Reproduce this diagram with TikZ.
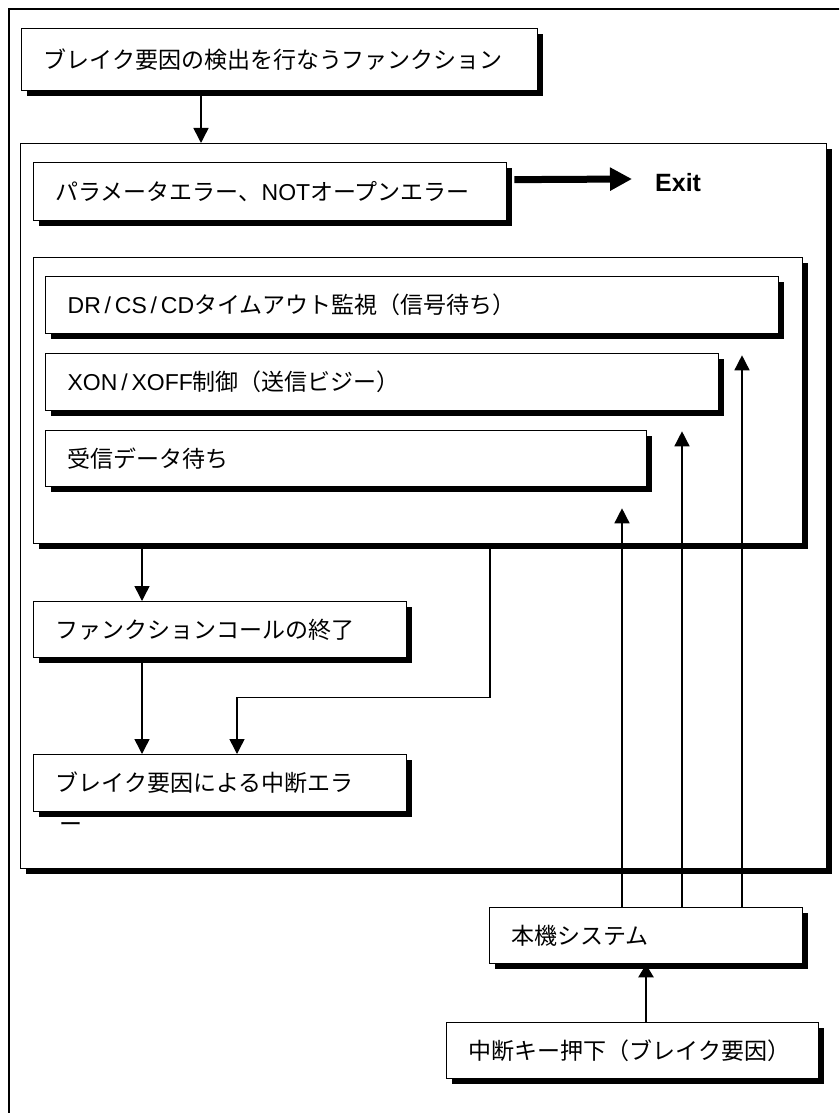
\documentclass[tikz,border=0pt]{standalone}
\usepackage{fontspec}
\setmainfont{Noto Sans CJK JP}
\newfontfamily\exitfont{Liberation Sans}
\newcommand{\lat}[1]{{\exitfont #1}}
\usetikzlibrary{positioning,arrows.meta,calc,shadows}
\definecolor{ink}{RGB}{0,0,0}
\tikzset{
  blk/.style={draw=ink, line width=1.3pt, fill=white, anchor=north west, align=left,
              inner xsep=22pt, inner ysep=0pt, minimum height=57pt, text=ink,
              font=\fontsize{23}{26}\selectfont,
              drop shadow={shadow xshift=5.5pt, shadow yshift=-5.5pt, fill=ink, opacity=1}},
  cont/.style={blk, inner sep=0pt},
  tail/.style={font=\fontsize{23}{26}\selectfont, text=ink, inner sep=0pt, anchor=west},
  arr/.style={-{Triangle[length=15pt,width=15pt]}, line width=1.5pt, draw=ink},
  karr/.style={-{Triangle[length=13pt,width=15pt]}, line width=2.4pt, draw=ink},
  xarr/.style={-{Triangle[length=22pt,width=22pt]}, line width=7pt, draw=ink},
  lbl/.style={font=\exitfont\bfseries\fontsize{25}{28}\selectfont, text=ink, inner sep=0pt, anchor=west},
}
\begin{document}
\begin{tikzpicture}[x=1pt, y=-1pt]
  \useasboundingbox (0,0) rectangle (839,1113);
  \clip (0,0) rectangle (839,1113);
  % sheet border, runs off the page right and below
  \draw[line width=2.2pt, draw=ink] (9,1130) |- (860,9);

  \node[blk, text width=472pt, minimum height=62pt] (detect) at (21,28) {ブレイク要因の検出を行なうファンクション};
  \node[cont, minimum width=806pt, minimum height=725pt] (main) at (20,143) {};
  \node[blk, text width=429pt, minimum height=58pt] (perr) at (33,162) {パラメータエラー、\lat{NOT}オープンエラー};
  \node[lbl] (exit) at (655,183) {Exit};

  % waiting states
  \node[cont, minimum width=769pt, minimum height=286pt] (watch) at (33,257) {};
  \node[blk, text width=689pt] (dr) at (45,276) {\lat{DR\,/\,CS\,/\,CD}タイムアウト監視（信号待ち）};
  \node[blk, text width=629pt] (xon) at (45,353) {\lat{XON\,/\,XOFF}制御（送信ビジー）};
  \node[blk, text width=557pt, minimum height=56pt] (rx) at (45,430) {受信データ待ち};

  \node[blk, text width=329pt, minimum height=56pt] (fend) at (33,601) {ファンクションコールの終了};
  \node[blk, text width=329pt] (berr) at (33,754) {ブレイク要因による中断エラ};
  \node[tail] (berrtail) at (59,828) {ー};

  \node[blk, text width=269pt, minimum height=56pt] (host) at (489,907) {本機システム};
  \node[blk, text width=328pt, minimum height=56pt] (brk) at (446,1022) {中断キー押下（ブレイク要因）};

  \draw[arr] (detect.south -| 201,0) -- (main.north -| 201,0);
  \draw[xarr] ($(perr.east)+(7,-12)$) -- ($(exit.west)+(-23,-4)$);
  \draw[arr] (watch.south -| 142,0) -- (fend.north -| 142,0);
  \draw[arr] (fend.south -| 142,0) -- (berr.north -| 142,0);
  \draw[arr] (watch.south -| 490,0) -- ++(0,153) -| (berr.north -| 237,0);
  \draw[arr] (host.north -| 622,0) -- ($(rx.south -| 622,0)+(0,21)$);
  \draw[arr] (host.north -| 682,0) -- ($(xon.south -| 682,0)+(0,20)$);
  \draw[arr] (host.north -| 742,0) -- ($(dr.south -| 742,0)+(0,21)$);
  \draw[karr] (brk.north -| 646,0) -- (host.south -| 646,0);
\end{tikzpicture}
\end{document}
